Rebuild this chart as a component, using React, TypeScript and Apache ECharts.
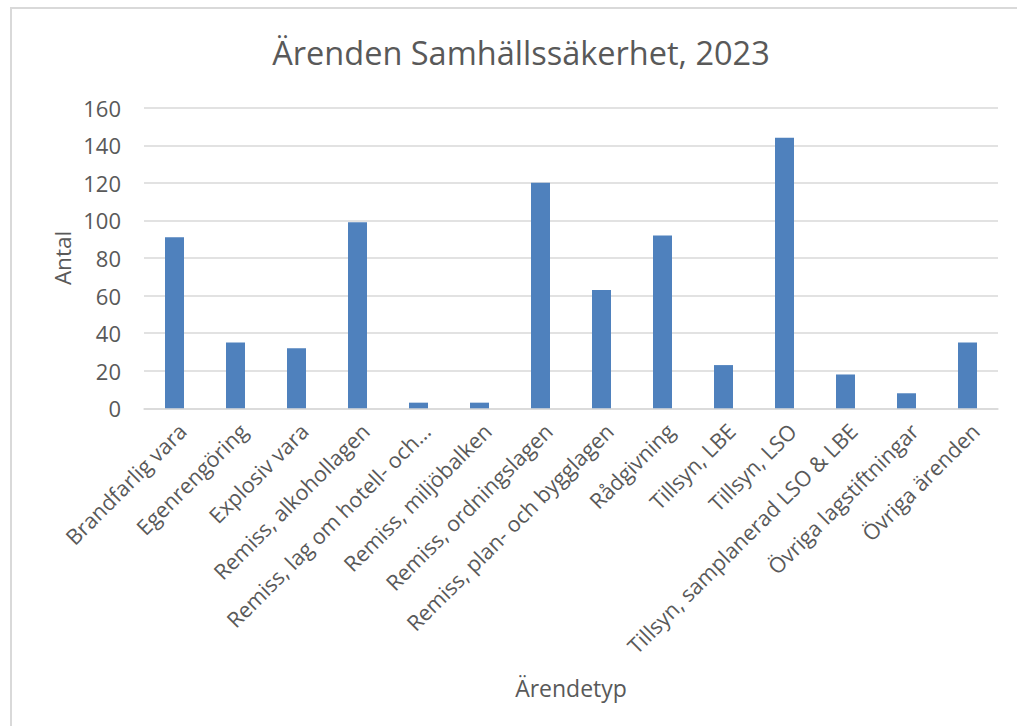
import React, { useEffect, useRef } from "react";
import * as echarts from "echarts";

const categories = [
  "Brandfarlig vara",
  "Egenrengöring",
  "Explosiv vara",
  "Remiss, alkohollagen",
  "Remiss, lag om hotell- och…",
  "Remiss, miljöbalken",
  "Remiss, ordningslagen",
  "Remiss, plan- och bygglagen",
  "Rådgivning",
  "Tillsyn, LBE",
  "Tillsyn, LSO",
  "Tillsyn, samplanerad LSO & LBE",
  "Övriga lagstiftningar",
  "Övriga ärenden",
];
const values = [91, 35, 32, 99, 3, 3, 120, 63, 92, 23, 144, 18, 8, 35];
const yTicks = { min: 0, max: 160, interval: 20 };
const titleText = "Ärenden Samhällssäkerhet, 2023";
const yName = "Antal";
const xName = "Ärendetyp";

const FONT = "'Open Sans', 'Noto Sans', sans-serif";
const GREY = "#595959";

export default function App() {
  const ref = useRef<HTMLDivElement>(null);
  useEffect(() => {
    if (!ref.current) return;
    const chart = echarts.init(ref.current, null, { renderer: "svg" });
    chart.setOption({
      animation: false,
      backgroundColor: "#ffffff",
      grid: { left: 144, right: 19, top: 107.7, bottom: 317.7, containLabel: false },
      xAxis: {
        type: "category",
        data: categories,
        axisLine: { show: true, lineStyle: { color: "#d9d9d9", width: 1.5 } },
        axisTick: { show: false },
        axisLabel: {
          rotate: 45,
          interval: 0,
          margin: 11,
          verticalAlign: "top",
          color: GREY,
          fontFamily: FONT,
          fontSize: 21.5,
        },
      },
      yAxis: {
        type: "value",
        min: yTicks.min,
        max: yTicks.max,
        interval: yTicks.interval,
        axisLine: { show: false },
        axisTick: { show: false },
        splitLine: { lineStyle: { color: "#d9d9d9", width: 1.5 } },
        axisLabel: {
          margin: 23,
          color: GREY,
          fontFamily: FONT,
          fontSize: 22,
        },
      },
      series: [
        {
          type: "bar",
          data: values,
          barWidth: 19,
          itemStyle: { color: "#4f81bd" },
        },
      ],
      graphic: [
        {
          type: "rect",
          shape: { x: 10, y: 7, width: 2, height: 730 },
          style: { fill: "#d9d9d9" },
          silent: true,
        },
        {
          type: "rect",
          shape: { x: 10, y: 7, width: 1020, height: 2 },
          style: { fill: "#d9d9d9" },
          silent: true,
        },
        {
          type: "text",
          x: 521,
          y: 52,
          style: {
            text: titleText,
            align: "center",
            verticalAlign: "middle",
            fill: GREY,
            fontFamily: FONT,
            fontSize: 32.5,
          },
        },
        {
          type: "text",
          x: 62,
          y: 258,
          rotation: Math.PI / 2,
          style: {
            text: yName,
            align: "center",
            verticalAlign: "middle",
            fill: GREY,
            fontFamily: FONT,
            fontSize: 22.5,
          },
        },
        {
          type: "text",
          x: 571,
          y: 688,
          style: {
            text: xName,
            align: "center",
            verticalAlign: "middle",
            fill: GREY,
            fontFamily: FONT,
            fontSize: 23,
          },
        },
      ],
    });
    return () => chart.dispose();
  }, []);
  return (
    <div
      ref={ref}
      style={{ position: "fixed", left: 0, top: 0, width: 1017, height: 726 }}
    />
  );
}
